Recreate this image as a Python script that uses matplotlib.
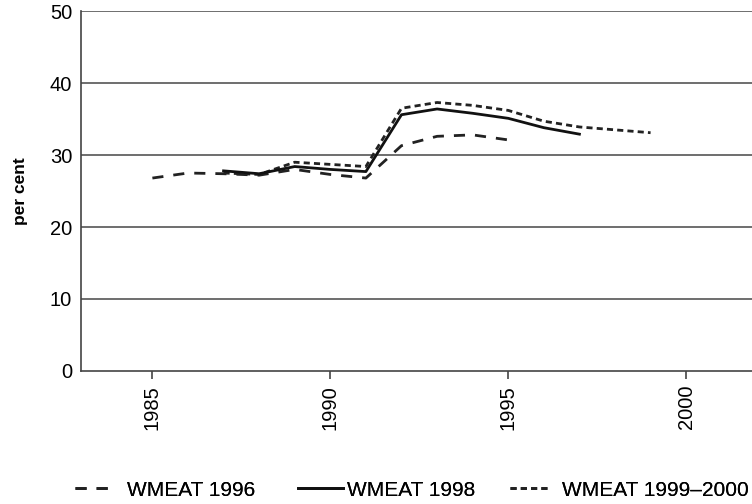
import matplotlib.pyplot as plt

plt.rcParams['font.family'] = ['Liberation Sans', 'DejaVu Sans']

years_1996 = [1985, 1986, 1987, 1988, 1989, 1990, 1991, 1992, 1993, 1994, 1995]
wmeat_1996 = [26.8, 27.5, 27.4, 27.2, 28.0, 27.3, 26.8, 31.3, 32.6, 32.8, 32.1]

years_1998 = [1987, 1988, 1989, 1990, 1991, 1992, 1993, 1994, 1995, 1996, 1997]
wmeat_1998 = [27.8, 27.4, 28.4, 28.0, 27.7, 35.6, 36.4, 35.8, 35.1, 33.8, 32.9]

years_1999 = [1987, 1988, 1989, 1990, 1991, 1992, 1993, 1994, 1995, 1996, 1997, 1998, 1999]
wmeat_1999 = [27.5, 27.3, 29.0, 28.7, 28.4, 36.5, 37.3, 36.9, 36.2, 34.7, 33.9, 33.5, 33.1]

labels = ['WMEAT 1996', 'WMEAT 1998', 'WMEAT 1999\u20132000']
xticks = [1985, 1990, 1995, 2000]
yticks = [0, 10, 20, 30, 40, 50]

dash_style = (4, 3.6)
dot_style = (2.2, 1.5)

fig = plt.figure(figsize=(7.52, 5.04), dpi=100)
ax = fig.add_axes([0.108, 0.264, 0.892, 0.714])

for yv in yticks[1:]:
    ax.axhline(yv, color='#555555', lw=1.2, zorder=1)

l1, = ax.plot(years_1996, wmeat_1996, color='#222222', lw=2, dashes=dash_style, zorder=3)
l2, = ax.plot(years_1998, wmeat_1998, color='#111111', lw=2, zorder=4)
l3, = ax.plot(years_1999, wmeat_1999, color='#222222', lw=2, dashes=dot_style, zorder=2)

ax.set_xlim(1983.0, 2001.85)
ax.set_ylim(0, 50)
ax.set_xticks(xticks)
ax.set_xticklabels([str(x) for x in xticks], rotation=90, fontsize=14.5)
ax.set_yticks(yticks)
ax.set_yticklabels([str(y) for y in yticks], fontsize=14.5)
ax.tick_params(axis='y', length=0, pad=6.5)
ax.tick_params(axis='x', length=6, width=1.2, color='#444444', pad=4)
ax.set_ylabel('per cent', fontsize=12.5, fontweight='bold', labelpad=16)

for side in ['top', 'right']:
    ax.spines[side].set_visible(False)
for side in ['left', 'bottom']:
    ax.spines[side].set_color('#444444')
    ax.spines[side].set_linewidth(1.2)

# legend entries placed one by one, like the original layout
legend_x = [75, 298, 510]
handle_len = [1.6, 2.15, 1.8]
text_pad = [0.9, 0.2, 0.7]
for line, lab, x0, hl, tp in zip([l1, l2, l3], labels, legend_x, handle_len, text_pad):
    leg = fig.legend(handles=[line], labels=[lab], loc='center left',
                     bbox_to_anchor=(x0 / 752, 1 - 490 / 504),
                     frameon=False, fontsize=15, handlelength=hl, handletextpad=tp,
                     borderpad=0, borderaxespad=0)
    fig.add_artist(leg)

fig.savefig('out.png', dpi=100)
